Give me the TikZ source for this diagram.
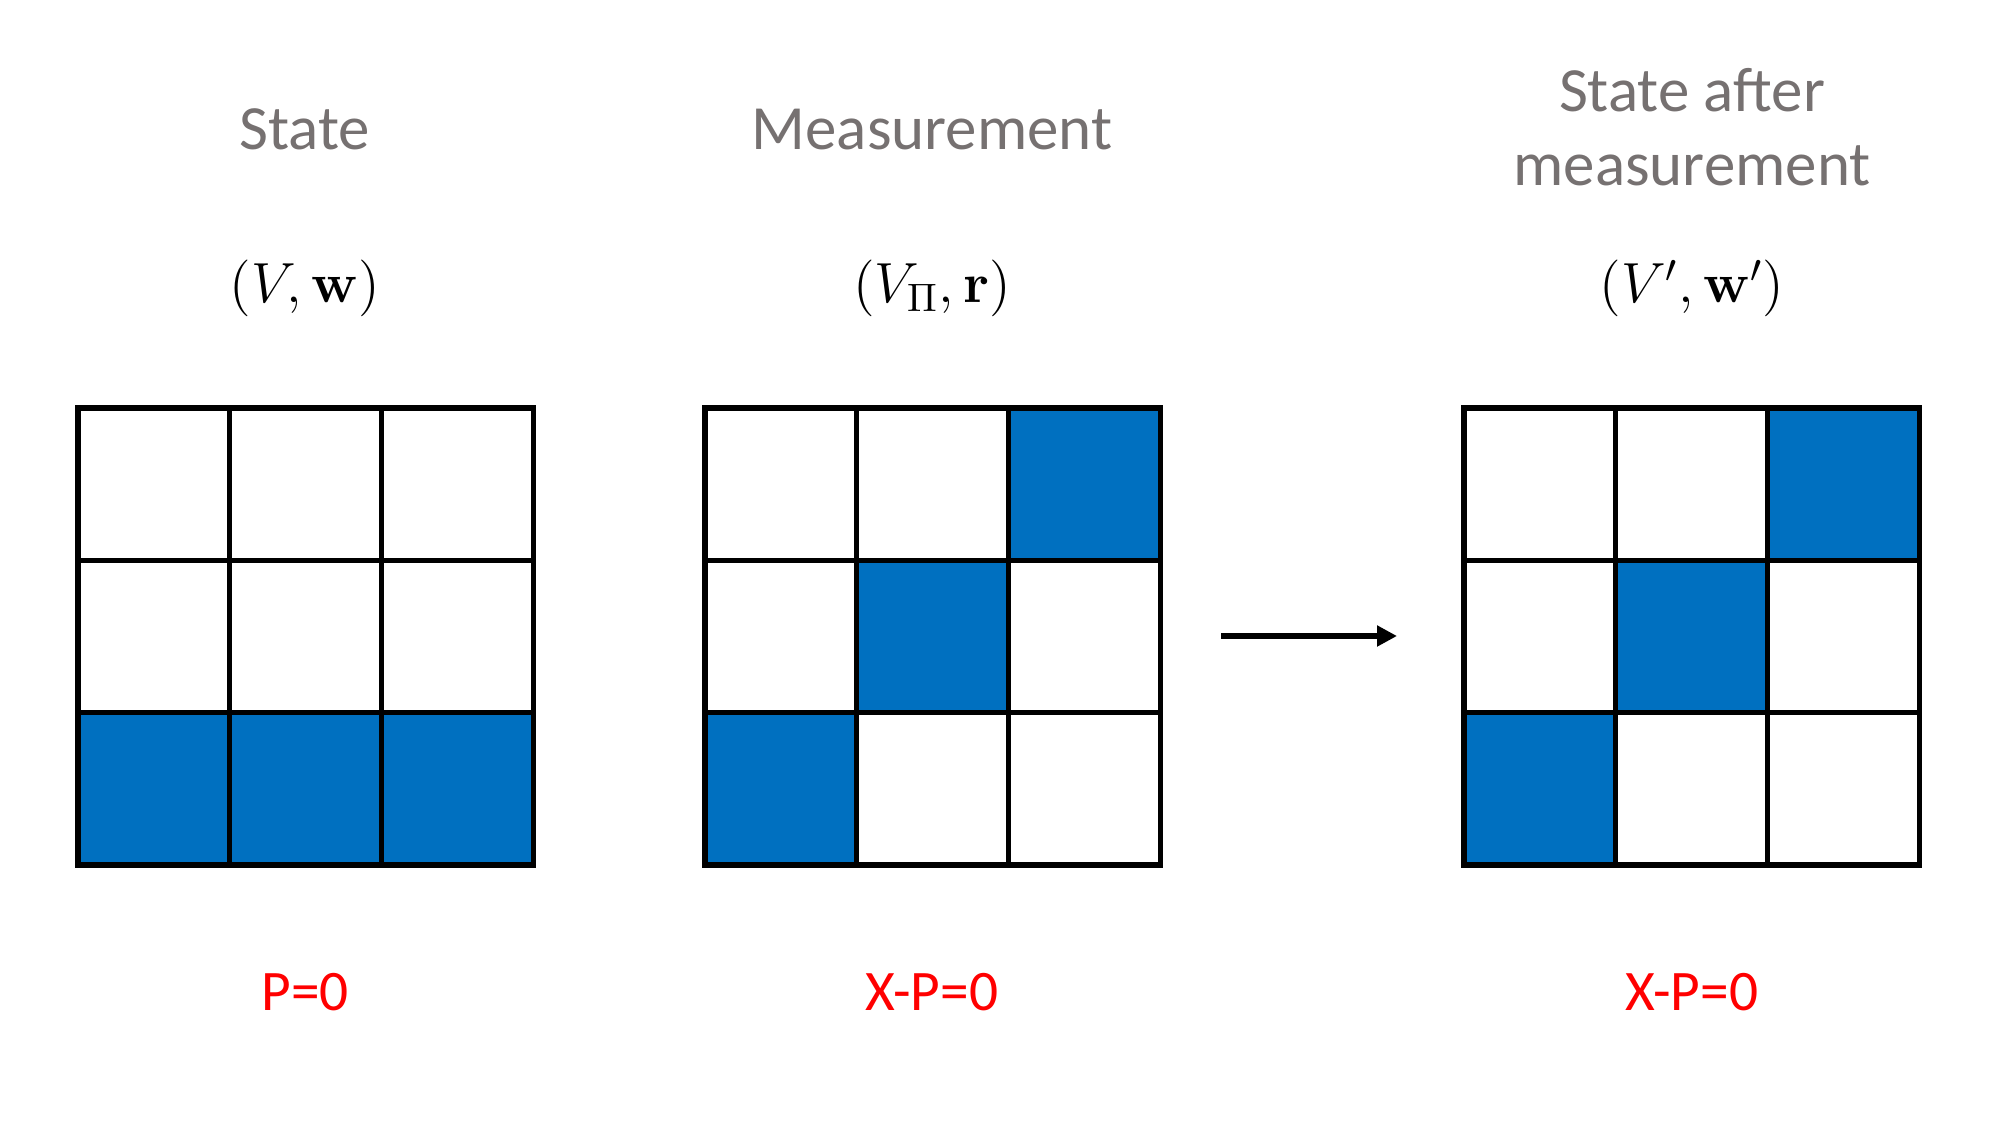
\documentclass[tikz,border=0pt]{standalone}
\usepackage{amsmath, amssymb}
\usepackage{fix-cm}
\usepackage[no-math]{fontspec}
\setmainfont{Carlito}
\usepackage{xcolor}
\usepackage{tikz}
\usetikzlibrary{arrows.meta, positioning}
\definecolor{titlegray}{RGB}{118,113,113}
\definecolor{cellblue}{RGB}{0,112,192}
\definecolor{eqred}{RGB}{255,0,0}

\begin{document}
\begin{tikzpicture}[
    x=0.01cm, y=-0.01cm,
    cell/.style={rectangle, draw, line width=1.5pt, fill=white, minimum width=1.517cm, minimum height=1.523cm, inner sep=0pt},
    title/.style={font=\fontsize{17.9}{21.3}\selectfont, text=titlegray, align=center, anchor=base},
    pair/.style={font=\fontsize{16.1}{18}\selectfont, anchor=base},
    constraint/.style={font=\fontsize{16.3}{19}\selectfont, text=eqred, anchor=base},
    arrow/.style={-{Triangle[length=0.2cm, width=0.2cm]}, line width=1.9pt}
]
    \useasboundingbox (0,0) rectangle (2000,1125);

    % Grids
    \foreach \g/\ox in {s/78, m/705, a/1464}
        \foreach \r in {1,2,3}
            \foreach \c in {1,2,3}
                \node[cell] (\g\r\c) at ({\ox+(\c-0.5)*151.7},{408+(\r-0.5)*152.3}) {};
    \foreach \n in {s31, s32, s33, m13, m22, m31, a13, a22, a31}
        \node[cell, fill=cellblue] at (\n) {};

    % Titles
    \node[title] (tstate) at (305,150) {State};
    \node[title] (tmeas) at (932,150) {Measurement};
    \node[title] (tafter) at (1692,186) {State after\\measurement};

    % Pairs
    \node[pair] (pstate) at (305,303) {$(V,\mathbf{w})$};
    \node[pair] (pmeas) at (932,303) {$(V_\Pi,\mathbf{r})$};
    \node[pair] (pafter) at (1692,303) {$(V',\mathbf{w}')$};

    % Constraints
    \node[constraint] (cstate) at (305,1010) {P=0};
    \node[constraint] (cmeas) at (932,1010) {X-P=0};
    \node[constraint] (cafter) at (1692,1010) {X-P=0};

    % Arrow
    \coordinate (from) at (1221,636);
    \coordinate (to) at (1397,636);
    \draw[arrow] (from) -- (to);
\end{tikzpicture}
\end{document}
